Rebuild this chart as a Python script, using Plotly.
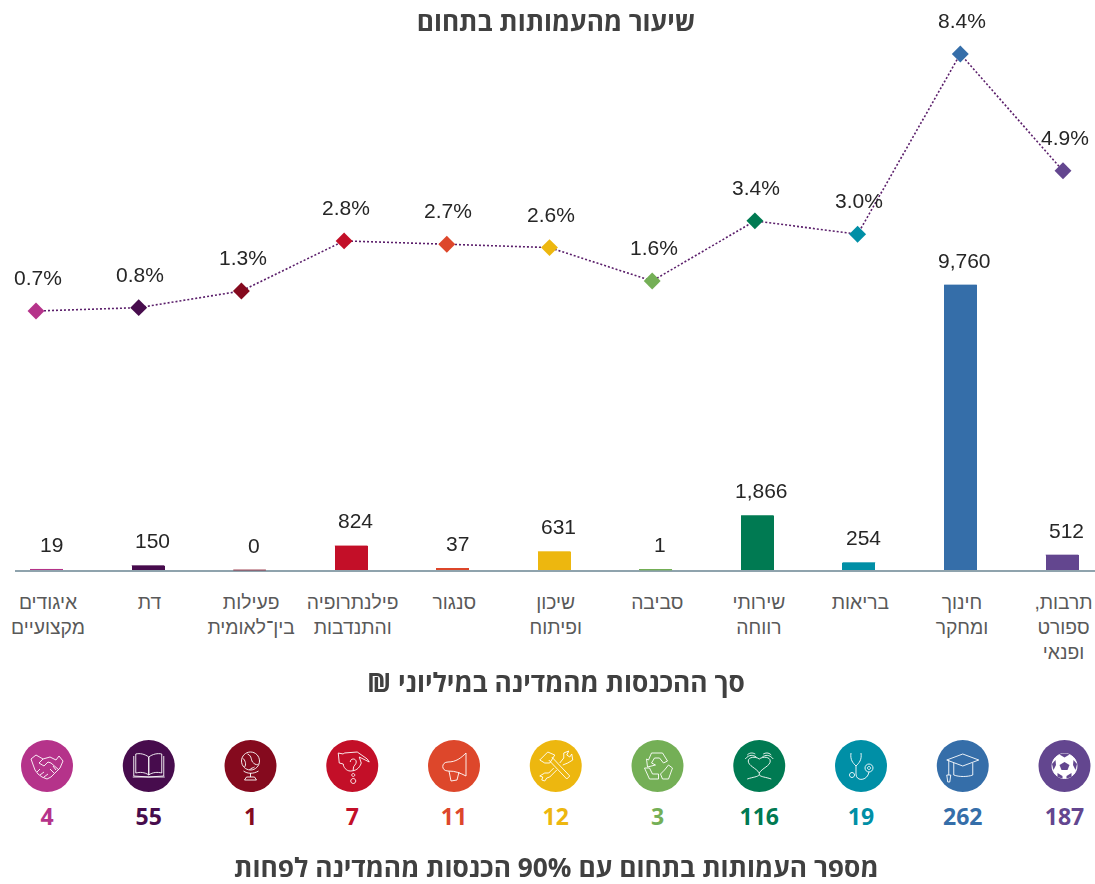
import math
import plotly.graph_objects as go

W, H = 1095, 884

categories = ["איגודים<br>מקצועיים", "דת", "פעילות<br>בין־לאומית", "פילנתרופיה<br>והתנדבות", "סנגור",
              "שיכון<br>ופיתוח", "סביבה", "שירותי<br>רווחה", "בריאות", "חינוך<br>ומחקר",
              "תרבות,\u200f<br>ספורט<br>ופנאי"]
state_income = [19, 150, 0, 824, 37, 631, 1, 1866, 254, 9760, 512]
org_share = [0.7, 0.8, 1.3, 2.8, 2.7, 2.6, 1.6, 3.4, 3.0, 8.4, 4.9]
org_count = [4, 55, 1, 7, 11, 12, 3, 116, 19, 262, 187]
colors = ["#B5338A", "#470C4D", "#850A1E", "#C30F28", "#DD472B", "#EDB70F",
          "#74AF56", "#007A52", "#008FA6", "#356EA9", "#63468F"]

TITLE_TOP = "שיעור מהעמותות בתחום"
TITLE_MID = "סך ההכנסות מהמדינה במיליוני ₪\u200f"
TITLE_BOT = "מספר העמותות בתחום עם 90% הכנסות מהמדינה לפחות"

SANS = "Liberation Sans, Arial, sans-serif"
BOLD = "Open Sans, Noto Sans, sans-serif"
idx = list(range(len(categories)))


def circ(cx, cy, r):
    k = 0.5523 * r
    return (f"M{cx-r},{cy} C{cx-r},{cy+k} {cx-k},{cy+r} {cx},{cy+r} "
            f"C{cx+k},{cy+r} {cx+r},{cy+k} {cx+r},{cy} "
            f"C{cx+r},{cy-k} {cx+k},{cy-r} {cx},{cy-r} "
            f"C{cx-k},{cy-r} {cx-r},{cy-k} {cx-r},{cy} Z")


# Decorative white pictograms, in pixels around the circle centre (y up)
icons = [
    # handshake
    [("M-16,7 L-11,11 L-4,7 L3,9 L9,6 L12,10 L16,5 L13,-2 L4,-11 L0,-13 L-5,-11 L-9,-8 L-12,-4 Z", None),
     ("M-4,7 L-8,3 L-3,0 L1,4 L4,3 L12,-4", None),
     ("M-10,-6 L-7,-3 M-7,-9 L-3,-6 M-3,-11 L1,-8 M3,-3 L7,-7 M6,0 L9,-4", None)],
    # book
    [("M0,-9 C-4,-6 -9,-6 -13,-7 L-13,12 C-9,13 -4,12 0,9 Z", None),
     ("M0,-9 C4,-6 9,-6 13,-7 L13,12 C9,13 4,12 0,9 Z", None),
     ("M-15,10 L-15,-10 L0,-11 L15,-10 L15,10 M-16,-11 L16,-11", None)],
    # globe
    [(circ(0, 5, 9), None),
     ("M-3,12 C2,10 0,5 3,3 C5,1 7,1 8,2 M-8,8 C-5,6 -4,1 -6,-1 M-1,-4 C0,-2 3,-2 4,-1", None),
     ("M-7,-5 C-3,-8 3,-8 8,-5 M0,-7 L0,-11 M-6,-14 L6,-14 L4,-11 L-4,-11 Z", None)],
    # hand with question mark
    [("M-14,13 L-9,12 L-8,13 L5,14 L15,7 L17,4 L13,6 L7,9 L9,3 C7,-3 3,-5 -2,-5 C-6,-5 -9,-1 -9,2 L-13,3 Z", None),
     ("M-2,4 C-2,8 4,8 4,4 C4,1 1,1 1,-3 L1,-5", None),
     (circ(1, -9, 1.5), None), (circ(1, -15, 2.5), None)],
    # megaphone
    [("M12,13 L12,-10 C6,-7 2,-5 -6,-5 C-13,-5 -13,4 -6,4 C2,4 7,8 12,13 Z", None),
     ("M-5,-5 L-3,-15 L3,-14 L5,-6", None)],
    # tools
    [("M-7,6 L11,-13 L14,-10 L-4,9", None),
     ("M-16,6 L-8,14 L-1,11 L-6,3 L-11,3 Z", None),
     ("M4,3 L8,8 L8,13 L13,15 L11,11 L14,9 L16,12 L17,6 L12,3 L7,1", None),
     ("M-2,-2 L-7,-7 L-11,-7 L-16,-10 L-13,-11 L-14,-14 L-11,-15 L-9,-12 L-6,-11 L-4,-9 L1,-4", None)],
    # recycle
    [("M-6,13 L5,13 L10,5 L6,3 L2,8 L-3,8 L-6,3 L-2,1 L-10,-1 L-11,7 L-9,6 Z", None),
     ("M-13,-2 L-8,-13 L1,-13 L1,-8 L-5,-8 L-8,-2 Z", None),
     ("M5,-13 L11,-13 L15,-2 L11,1 L7,-4 L3,-8 L5,-13 Z", None)],
    # hands and heart
    [("M0,-7 C-3,-2 -11,0 -11,5 C-11,9 -4,10 0,7 C4,10 11,9 11,5 C11,0 3,-2 0,-7 Z", None),
     ("M-14,7 C-10,12 -6,11 -3,9 M14,7 C10,12 6,11 3,9 M-12,11 C-9,14 -6,13 -4,12 M12,11 C9,14 6,13 4,12", None),
     ("M-12,-13 C-6,-11 -2,-11 0,-9 C2,-11 6,-11 12,-13 M0,-7 L0,-9", None)],
    # stethoscope
    [("M-10,13 C-11,6 -8,3 -5,0 C-2,3 1,6 0,13", None),
     ("M-5,0 L-5,-8 C-5,-15 4,-15 7,-9 L8,-6", None),
     (circ(-9, -9, 2.5), None), (circ(8, -2, 4), None), (circ(8, -2, 1.5), None)],
    # graduation cap
    [("M-16,6 L0,12 L16,6 L0,0 Z", None),
     ("M-9,3 L-9,-9 C-4,-11 5,-11 10,-9 L10,3", None),
     ("M-14,6 L-14,-9", None), ("M-16,-9 L-12,-9 L-13,-16 L-15,-16 Z", None)],
    # football
    [(circ(0, 0, 12.5), "#FFFFFF"),
     ("M0,4 L5,1 L3,-4 L-3,-4 L-5,1 Z", "#63468F"),
     ("M-5,11.5 L0,8.5 L5,11.5 L2,12.5 L-2,12.5 Z", "#63468F"),
     ("M-12.5,2 L-9,6 L-8.5,1 L-11,-4 Z", "#63468F"),
     ("M12.5,2 L9,6 L8.5,1 L11,-4 Z", "#63468F"),
     ("M-7,-11 L-7,-7 L-2,-10 L-2,-12.5 Z", "#63468F"),
     ("M7,-11 L7,-7 L2,-10 L2,-12.5 Z", "#63468F")],
]

fig = go.Figure()

fig.add_trace(go.Bar(
    x=idx, y=state_income, width=33 / 101.55, xaxis="x", yaxis="y",
    marker=dict(color=colors, line=dict(color=colors, width=0)),
    hoverinfo="skip", showlegend=False))
# Hairline at each bar's value, so the very small bars stay visible on the axis
fig.add_trace(go.Scatter(
    x=idx, y=state_income, mode="markers", xaxis="x", yaxis="y",
    marker=dict(symbol="line-ew", size=23.3, line=dict(color=colors, width=1)),
    opacity=0.75, hoverinfo="skip", showlegend=False, cliponaxis=False))
fig.add_trace(go.Scatter(
    x=idx, y=org_share, mode="lines+markers", xaxis="x2", yaxis="y2",
    line=dict(color="#5B1F6B", width=1.6, dash="2px,2px"),
    marker=dict(symbol="diamond", size=13, color=colors, line=dict(width=0)),
    hoverinfo="skip", showlegend=False, cliponaxis=False))
fig.add_trace(go.Scatter(
    x=idx, y=[1] * len(idx), mode="markers", xaxis="x3", yaxis="y3",
    marker=dict(symbol="circle", size=52, color=colors, line=dict(width=0)),
    hoverinfo="skip", showlegend=False, cliponaxis=False))
fig.add_trace(go.Scatter(
    x=idx, y=[-0.04] * len(idx), mode="text", xaxis="x3", yaxis="y3",
    text=[str(v) for v in org_count], textposition="middle center",
    textfont=dict(family=BOLD, size=23, color=colors, weight=700),
    hoverinfo="skip", showlegend=False, cliponaxis=False))

annotations = []
for i in idx:
    annotations.append(dict(x=i, y=state_income[i], xref="x", yref="y", text=f"{state_income[i]:,}",
                            showarrow=False, xanchor="center", yanchor="middle", xshift=4.5, yshift=25,
                            font=dict(family=SANS, size=21, color="#262626")))
    annotations.append(dict(x=i, y=org_share[i], xref="x2", yref="y2", text=f"{org_share[i]:.1f}%",
                            showarrow=False, xanchor="center", yanchor="middle", xshift=1.5, yshift=33.5,
                            font=dict(family=SANS, size=21, color="#262626")))
for text, py in [(TITLE_MID, 682), (TITLE_BOT, 867)]:
    annotations.append(dict(x=556 / W, y=1 - py / H, xref="paper", yref="paper", text=text,
                            showarrow=False, xanchor="center", yanchor="middle",
                            font=dict(family=BOLD, size=26.3, color="#404040", weight=700)))

shapes = []
for i, parts in enumerate(icons):
    for path, fill in parts:
        shapes.append(dict(type="path", path=path, xsizemode="pixel", ysizemode="pixel",
                           xref="x3", yref="y3", xanchor=i, yanchor=1,
                           fillcolor=fill or "rgba(0,0,0,0)",
                           line=dict(color="#FFFFFF", width=0 if fill and fill != "#FFFFFF" else 0.9)))

plot_bottom = 570
fig.update_layout(
    width=W, height=H, autosize=False,
    margin=dict(l=0, r=0, t=0, b=0, pad=0, autoexpand=False),
    paper_bgcolor="#FFFFFF", plot_bgcolor="rgba(0,0,0,0)",
    title=dict(text=TITLE_TOP, x=556 / W, xref="paper", xanchor="center",
               y=1 - 22 / H, yref="container", yanchor="middle",
               font=dict(family=BOLD, size=26.2, color="#404040", weight=700)),
    xaxis=dict(domain=[15 / W, 1], range=[(15 - 46.5) / 101.55, (W - 46.5) / 101.55],
               tickmode="array", tickvals=[i + 0.015 for i in idx], ticktext=categories,
               showgrid=False, zeroline=False,
               showline=True, linecolor="#8FA3AD", linewidth=2, ticks="outside", ticklen=14,
               tickcolor="rgba(0,0,0,0)", anchor="y", layer="below traces",
               tickfont=dict(family=SANS, size=19.3, color="#595959"), tickangle=0),
    xaxis2=dict(domain=[0, 1], range=[-36 / 102.7, (W - 36) / 102.7], visible=False, anchor="y2"),
    xaxis3=dict(domain=[0, 1], range=[-47 / 101.75, (W - 47) / 101.75], visible=False, anchor="y3"),
    yaxis=dict(domain=[(H - plot_bottom) / H, 1], range=[0, plot_bottom / 0.0292], visible=False, anchor="x"),
    yaxis2=dict(domain=[(H - plot_bottom) / H, 1],
                range=[0.7 - (plot_bottom - 311) / 33.38, 0.7 + 311 / 33.38], visible=False, anchor="x2"),
    yaxis3=dict(domain=[0, 170 / H], range=[-(884 - 817) / 51, 1 + (766 - 714) / 51], visible=False, anchor="x3"),
    annotations=annotations, shapes=shapes,
    font=dict(family=SANS), showlegend=False, bargap=0,
)

fig.write_html("out.html", config=dict(displayModeBar=False),
               post_script="document.documentElement.style.overflow='hidden';document.body.style.margin='0';")
